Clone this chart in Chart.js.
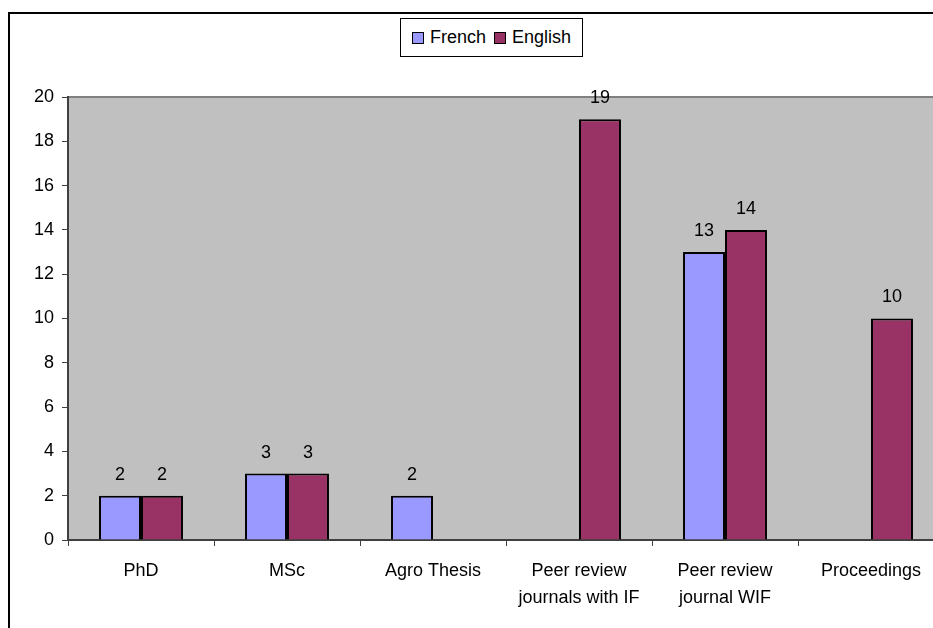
<!DOCTYPE html>
<html>
<head>
<meta charset="utf-8">
<script src="https://cdn.jsdelivr.net/npm/chart.js@4.4.0/dist/chart.umd.min.js"></script>
<style>
  html, body { margin: 0; padding: 0; background: #fff; }
  body { width: 933px; height: 628px; overflow: hidden; position: relative; font-family: "Liberation Sans", Arial, sans-serif; }
  #frame { position: absolute; left: 8px; top: 12px; width: 1000px; height: 700px; border: 2px solid #000; box-sizing: border-box; }
  #wrap { position: absolute; left: 0; top: 0; width: 960px; height: 628px; }
  #legend { position: absolute; left: 400px; top: 18px; width: 183px; height: 39px; box-sizing: border-box;
            border: 1px solid #000; background: #fff; display: flex; align-items: center; justify-content: center;
            font-size: 18px; color: #000; }
  #legend span.sw { display: inline-block; width: 10px; height: 10px; border: 1px solid #000; margin: 0 6px 0 0; }
  #legend span.item { display: inline-flex; align-items: center; margin: 0 4px; }
</style>
</head>
<body>
<div id="frame"></div>
<div id="wrap"><canvas id="myChart" width="960" height="628"></canvas></div>
<div id="legend"></div>
<script>
const categories = ["PhD", "MSc", "Agro Thesis", ["Peer review", "journals with IF"], ["Peer review", "journal WIF"], "Proceedings"];
const french = [2, 3, 2, 0, 13, 0];
const english = [2, 3, 0, 19, 14, 10];
const yTicks = [0, 2, 4, 6, 8, 10, 12, 14, 16, 18, 20];

const seriesNames = ["French", "English"];
const seriesColors = ["#9999FF", "#993366"];
const fontFamily = '"Liberation Sans", Arial, sans-serif';

// legend box drawn as html
const legend = document.getElementById('legend');
seriesNames.forEach((name, i) => {
    const item = document.createElement('span');
    item.className = 'item';
    item.innerHTML = '<span class="sw" style="background:' + seriesColors[i] + '"></span>' + name;
    legend.appendChild(item);
});

const plotBackground = {
    id: 'plotBackground',
    beforeDraw(chart) {
        const { ctx, chartArea: a } = chart;
        ctx.save();
        ctx.fillStyle = '#C0C0C0';
        ctx.fillRect(a.left, a.top, a.right - a.left, a.bottom - a.top);
        ctx.strokeStyle = '#808080';
        ctx.lineWidth = 2;
        ctx.beginPath();
        ctx.moveTo(a.left, a.top);
        ctx.lineTo(a.right, a.top);
        ctx.stroke();
        ctx.restore();
    }
};

const valueLabels = {
    id: 'valueLabels',
    afterDatasetsDraw(chart) {
        const { ctx } = chart;
        ctx.save();
        ctx.font = '18px ' + fontFamily;
        ctx.fillStyle = '#000';
        ctx.textAlign = 'center';
        ctx.textBaseline = 'middle';
        chart.data.datasets.forEach((ds, i) => {
            chart.getDatasetMeta(i).data.forEach((bar, j) => {
                if (!ds.data[j]) return;
                ctx.fillText(String(ds.data[j]), bar.x, bar.y - 21);
            });
        });
        ctx.restore();
    }
};

const ctx = document.getElementById('myChart');
new Chart(ctx, {
    type: 'bar',
    data: {
        labels: categories,
        datasets: [
            { label: seriesNames[0], data: french, backgroundColor: seriesColors[0], borderColor: '#000', borderWidth: 2,
              categoryPercentage: 0.575, barPercentage: 1 },
            { label: seriesNames[1], data: english, backgroundColor: seriesColors[1], borderColor: '#000', borderWidth: 2,
              categoryPercentage: 0.575, barPercentage: 1 }
        ]
    },
    options: {
        responsive: false,
        animation: false,
        devicePixelRatio: 1,
        layout: { padding: { left: 0, top: 97, right: 16, bottom: 0 } },
        plugins: {
            legend: { display: false },
            tooltip: { enabled: false }
        },
        scales: {
            x: {
                grid: { display: true, drawOnChartArea: false, drawTicks: true, tickLength: 6, color: '#404040', offset: true },
                border: { display: true, color: '#404040', width: 2 },
                ticks: {
                    color: '#000',
                    font: { family: fontFamily, size: 18, lineHeight: 1.5 },
                    padding: 12,
                    maxRotation: 0,
                    autoSkip: false
                },
                afterFit(scale) { scale.height = 88; }
            },
            y: {
                min: 0,
                max: 20,
                afterBuildTicks(scale) { scale.ticks = yTicks.map(v => ({ value: v })); },
                grid: { display: true, drawOnChartArea: false, drawTicks: true, tickLength: 6, color: '#404040' },
                border: { display: true, color: '#404040', width: 2 },
                ticks: {
                    color: '#000',
                    font: { family: fontFamily, size: 18 },
                    padding: 8
                },
                afterFit(scale) { scale.width = 68; }
            }
        }
    },
    plugins: [plotBackground, valueLabels]
});
</script>
</body>
</html>
